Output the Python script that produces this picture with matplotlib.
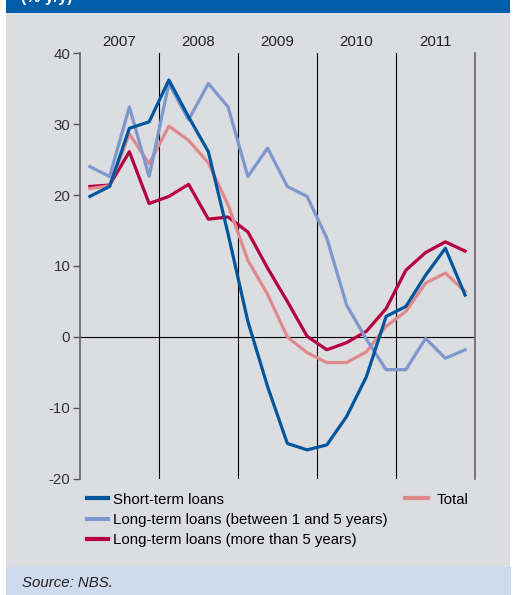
import matplotlib
matplotlib.use("Agg")
import matplotlib.pyplot as plt
from matplotlib.patches import Rectangle
from matplotlib.lines import Line2D

plt.rcParams['font.family'] = ['Liberation Sans', 'DejaVu Sans']
plt.rcParams['axes.unicode_minus'] = False

# quarterly data, 2007Q1 - 2011Q4 (% y/y)
years = ['2007', '2008', '2009', '2010', '2011']
short_term = [19.8, 21.2, 29.4, 30.3, 36.2, 31.0, 26.1, 14.5, 2.2, -7.0,
              -15.0, -15.9, -15.2, -11.2, -5.6, 2.9, 4.3, 8.7, 12.5, 5.9]
long_1_5 = [24.0, 22.6, 32.4, 22.6, 35.7, 30.6, 35.7, 32.4, 22.6, 26.6,
            21.2, 19.8, 13.9, 4.5, -0.3, -4.6, -4.6, -0.2, -3.0, -1.8]
long_5plus = [21.2, 21.4, 26.1, 18.8, 19.8, 21.5, 16.6, 16.9, 14.8, 9.7,
              5.0, 0.1, -1.8, -0.8, 0.8, 4.0, 9.4, 11.9, 13.4, 12.1]
total = [20.9, 21.3, 28.6, 24.4, 29.7, 27.7, 24.5, 18.6, 10.8, 6.0,
         0.0, -2.2, -3.6, -3.6, -2.1, 1.5, 3.6, 7.6, 9.0, 6.4]

c_short = '#00569c'
c_long15 = '#7c98cf'
c_long5 = '#b5003f'
c_total = '#e0898d'
bg = '#dcdde0'

fig = plt.figure(figsize=(5.14, 5.95), dpi=100)
fig.patch.set_facecolor('white')

# background bands
fig.patches.append(Rectangle((0.0117, 0.047), 0.9805, 0.931, transform=fig.transFigure,
                             facecolor=bg, edgecolor='none', zorder=-10))
fig.patches.append(Rectangle((0.0117, 0.978), 0.9805, 0.03, transform=fig.transFigure,
                             facecolor='#005ea9', edgecolor='none', zorder=-10))
fig.patches.append(Rectangle((0.0117, 0.0), 0.9825, 0.047, transform=fig.transFigure,
                             facecolor='#cddbec', edgecolor='none', zorder=-10))
# header title is cropped at the top edge in the original
fig.text(0.04, 0.9965, '(% y/y)', color='white', fontsize=11.5, fontweight='bold',
         va='baseline', ha='left')

ax = fig.add_axes([0.1556, 0.1950, 0.7685, 0.7159])
ax.patch.set_visible(False)

x = list(range(len(total)))
ax.plot(x, long_5plus, color=c_long5, lw=2.3, zorder=3)
ax.plot(x, total, color=c_total, lw=2.3, zorder=4)
ax.plot(x, long_1_5, color=c_long15, lw=2.3, zorder=5)
ax.plot(x, short_term, color=c_short, lw=2.3, zorder=6)

ax.set_xlim(-0.5, len(total) - 0.5)
ax.set_ylim(-20, 40)
ax.set_yticks(range(-20, 41, 10))
ax.set_xticks([])

for k in range(1, len(years)):
    ax.axvline(4 * k - 0.5, color='black', lw=0.8, zorder=2)
ax.axhline(0, color='black', lw=0.8, zorder=2)

for k, yr in enumerate(years):
    ax.text(4 * k + 1.5, 1.027, yr, transform=ax.get_xaxis_transform(),
            ha='center', va='center', fontsize=10.8, color='#222222')

for s in ['top', 'bottom']:
    ax.spines[s].set_visible(False)
for s in ['left', 'right']:
    ax.spines[s].set_color('#666666')
    ax.spines[s].set_linewidth(1.2)
ax.tick_params(axis='y', direction='out', length=5, width=1, color='#555555',
               labelsize=10.8, labelcolor='#333333', pad=2)

h1 = [Line2D([], [], color=c_short, lw=3),
      Line2D([], [], color=c_long15, lw=3),
      Line2D([], [], color=c_long5, lw=3)]
l1 = ['Short-term loans', 'Long-term loans (between 1 and 5 years)',
      'Long-term loans (more than 5 years)']
fig.legend(h1, l1, loc='upper left', bbox_to_anchor=(0.169, 0.172), frameon=False,
           fontsize=10.8, handlelength=1.4, handletextpad=0.35, labelspacing=0.42,
           borderpad=0, borderaxespad=0)
fig.legend([Line2D([], [], color=c_total, lw=3)], ['Total'], loc='upper left',
           bbox_to_anchor=(0.788, 0.172), frameon=False, fontsize=10.8,
           handlelength=1.5, handletextpad=0.6, borderpad=0, borderaxespad=0)

fig.text(0.043, 0.02, 'Source: NBS.', fontsize=10.8, style='italic',
         va='center', ha='left', color='#222222')

fig.savefig('out.png', dpi=100)
